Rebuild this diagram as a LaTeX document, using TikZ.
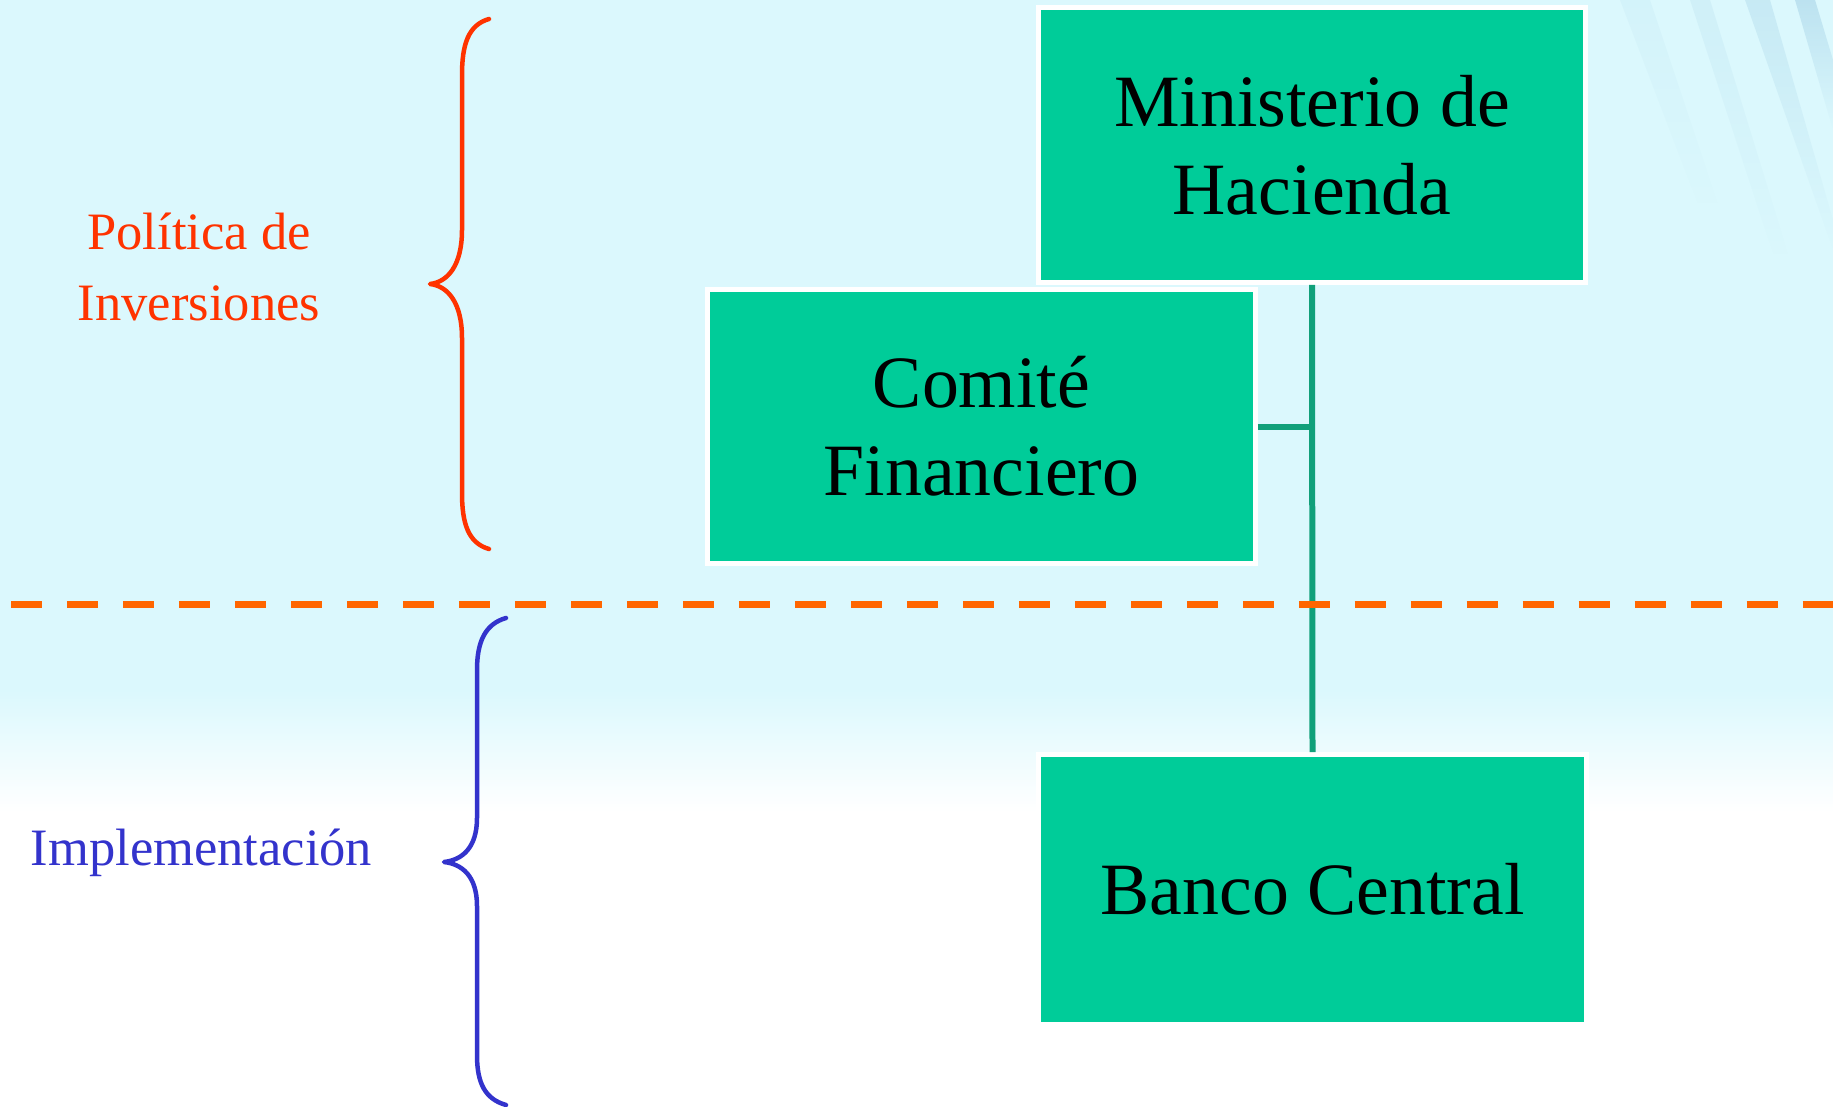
\documentclass[tikz,border=0pt]{standalone}
\usepackage{fontspec}
\setmainfont{Liberation Serif}
\usetikzlibrary{fadings}
\definecolor{fundo}{RGB}{219,248,253}
\definecolor{verde}{RGB}{0,204,153}
\definecolor{verdelinha}{RGB}{16,160,122}
\definecolor{vermelho}{RGB}{255,51,0}
\definecolor{azul}{RGB}{51,51,204}
\definecolor{laranja}{RGB}{255,102,0}
\definecolor{listra}{RGB}{80,150,195}
\tikzset{
  caixa/.style={fill=verde, draw=white, line width=0.1cm, align=center,
    font=\fontsize{42}{50}\selectfont, minimum width=10.96cm},
  rotulo/.style={align=center, inner sep=0pt, font=\fontsize{29.9}{40.4}\selectfont},
  conector/.style={draw=verdelinha, line width=0.12cm},
  chave/.style={line width=0.09cm, line cap=round, line join=round},
  tracejado/.style={draw=laranja, line width=0.15cm, dash pattern=on 0.62cm off 0.5cm},
  listrado/.style={fill=listra, path fading=south}
}
\begin{document}
\begin{tikzpicture}[x=0.02cm, y=-0.02cm]
    % Fundo com degradê
    \useasboundingbox (0,0) rectangle (1833,1106);
    \fill[fundo] (0,0) rectangle (1833,690);
    \shade[top color=fundo, bottom color=white] (0,690) rectangle (1833,812);
    \fill[white] (0,811) rectangle (1833,1106);
    % Listras no canto superior direito
    \fill[listrado, opacity=.05] (1620,0) -- (1650,0) -- (1720,210) -- (1700,210) -- cycle;
    \fill[listrado, opacity=.08] (1690,0) -- (1710,0) -- (1790,260) -- (1775,260) -- cycle;
    \fill[listrado, opacity=.14] (1745,0) -- (1770,0) -- (1833,220) -- (1833,250) -- cycle;
    \fill[listrado, opacity=.22] (1795,0) -- (1815,0) -- (1833,60) -- (1833,130) -- cycle;
    % Caixas
    \node[caixa, minimum height=5.5cm]  (ministerio) at (1312,145)     {Ministerio de\\Hacienda};
    \node[caixa, minimum height=5.48cm] (comite)     at (981.5,426.5)  {Comité\\Financiero};
    \node[caixa, minimum height=5.4cm]  (banco)      at (1312.5,889.5) {Banco Central};
    % Ligações
    \draw[conector] (ministerio.south) -- (banco.north);
    \draw[conector] (comite.east) -- (comite.east -| ministerio.south);
    % Linha tracejada
    \draw[tracejado] (11,604.5) -- (1833,604.5);
    % Chaves
    \draw[chave, vermelho] (489,19) .. controls (468,25) and (462,45) .. (462,75) -- (462,230)
      .. controls (462,265) and (448,282) .. (430,284) .. controls (448,286) and (462,303) .. (462,338)
      -- (462,493) .. controls (462,523) and (468,543) .. (489,549);
    \draw[chave, azul] (506,618) .. controls (485,624) and (477,642) .. (477,670) -- (477,818)
      .. controls (477,848) and (462,860) .. (444,862) .. controls (462,864) and (477,876) .. (477,906)
      -- (477,1055) .. controls (477,1083) and (485,1099) .. (506,1105);
    % Rótulos
    \node[rotulo, text=vermelho] (politica) at (199,267) {Política de\\Inversiones};
    \node[rotulo, text=azul, anchor=base] (implementacion) at (201.5,865) {Implementación};
\end{tikzpicture}
\end{document}
